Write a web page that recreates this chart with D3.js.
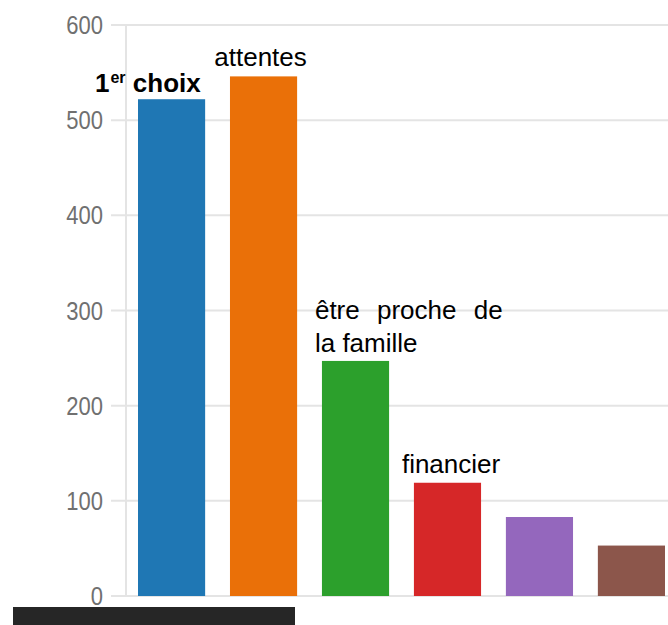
<!DOCTYPE html>
<html>
<head>
<meta charset="utf-8">
<script src="https://cdn.jsdelivr.net/npm/d3@7"></script>
<style>
  html, body { margin: 0; padding: 0; background: #fff; }
  svg { display: block; }
</style>
</head>
<body>
<div id="chart"></div>
<script>
// data
const categories = ['1er choix', 'attentes', 'être proche de la famille', 'financier', 'cat5', 'cat6'];
const values = [522, 546, 247, 119, 83, 53];
const colors = ['#1f77b4', '#ea7008', '#2ca02c', '#d62728', '#9467bd', '#8c564b'];
const yTicks = [0, 100, 200, 300, 400, 500, 600];

const width = 668, height = 625;
const svg = d3.select('#chart')
  .append('svg')
  .attr('width', width)
  .attr('height', height);

// scales
const y = d3.scaleLinear()
  .domain([0, 600])
  .range([596, 25]);

const x = d3.scaleBand()
  .domain(categories)
  .range([138, 665])
  .paddingInner(0.27)
  .paddingOuter(0);

// gridlines
svg.append('g')
  .selectAll('line')
  .data(yTicks)
  .enter()
  .append('line')
  .attr('x1', 111)
  .attr('x2', width)
  .attr('y1', d => y(d))
  .attr('y2', d => y(d))
  .attr('stroke', '#e4e4e4')
  .attr('stroke-width', 2);

// vertical axis line
svg.append('line')
  .attr('x1', 126)
  .attr('x2', 126)
  .attr('y1', y(600))
  .attr('y2', y(0))
  .attr('stroke', '#e4e4e4')
  .attr('stroke-width', 2);

// y tick labels (condensed look: squeeze horizontally)
svg.append('g')
  .selectAll('text')
  .data(yTicks)
  .enter()
  .append('text')
  .attr('transform', d => `translate(103,${y(d)}) scale(0.88,1)`)
  .attr('dy', '0.36em')
  .attr('text-anchor', 'end')
  .style('font-family', '"Liberation Sans", Arial, sans-serif')
  .style('font-size', '25px')
  .style('fill', '#707070')
  .text(d => d);

// bars
svg.append('g')
  .selectAll('rect')
  .data(categories)
  .enter()
  .append('rect')
  .attr('x', d => x(d))
  .attr('y', (d, i) => y(values[i]))
  .attr('width', x.bandwidth())
  .attr('height', (d, i) => y(0) - y(values[i]))
  .attr('fill', (d, i) => colors[i]);

const labelFont = '"Liberation Sans", Arial, sans-serif';

// "1er choix" label, bold with superscript
const l0 = svg.append('text')
  .attr('x', x(categories[0]) - 43)
  .attr('y', y(values[0]) - 7)
  .style('font-family', labelFont)
  .style('font-size', '26px')
  .style('font-weight', 'bold')
  .style('fill', '#000');
l0.append('tspan').text('1');
l0.append('tspan')
  .attr('dx', 1)
  .attr('dy', -9)
  .style('font-size', '16px')
  .text('er');
l0.append('tspan')
  .attr('dy', 9)
  .text(' choix');

// "attentes"
svg.append('text')
  .attr('x', x(categories[1]) + x.bandwidth() / 2 - 3)
  .attr('y', y(values[1]) - 10)
  .attr('text-anchor', 'middle')
  .style('font-family', labelFont)
  .style('font-size', '26px')
  .style('fill', '#000')
  .text(categories[1]);

// "être proche de / la famille"
const l2 = svg.append('text')
  .attr('x', x(categories[2]) - 7)
  .attr('y', y(values[2]) - 42)
  .style('font-family', labelFont)
  .style('font-size', '26px')
  .style('fill', '#000');
l2.append('tspan')
  .style('word-spacing', '10px')
  .text('être proche de');
l2.append('tspan')
  .attr('x', x(categories[2]) - 7)
  .attr('dy', 33)
  .text('la famille');

// "financier"
svg.append('text')
  .attr('x', x(categories[3]) - 12)
  .attr('y', y(values[3]) - 10)
  .style('font-family', labelFont)
  .style('font-size', '26px')
  .style('fill', '#000')
  .text(categories[3]);

// dark bar at the bottom
svg.append('rect')
  .attr('x', 13)
  .attr('y', 607)
  .attr('width', 282)
  .attr('height', 18)
  .attr('fill', '#262626');
</script>
</body>
</html>
